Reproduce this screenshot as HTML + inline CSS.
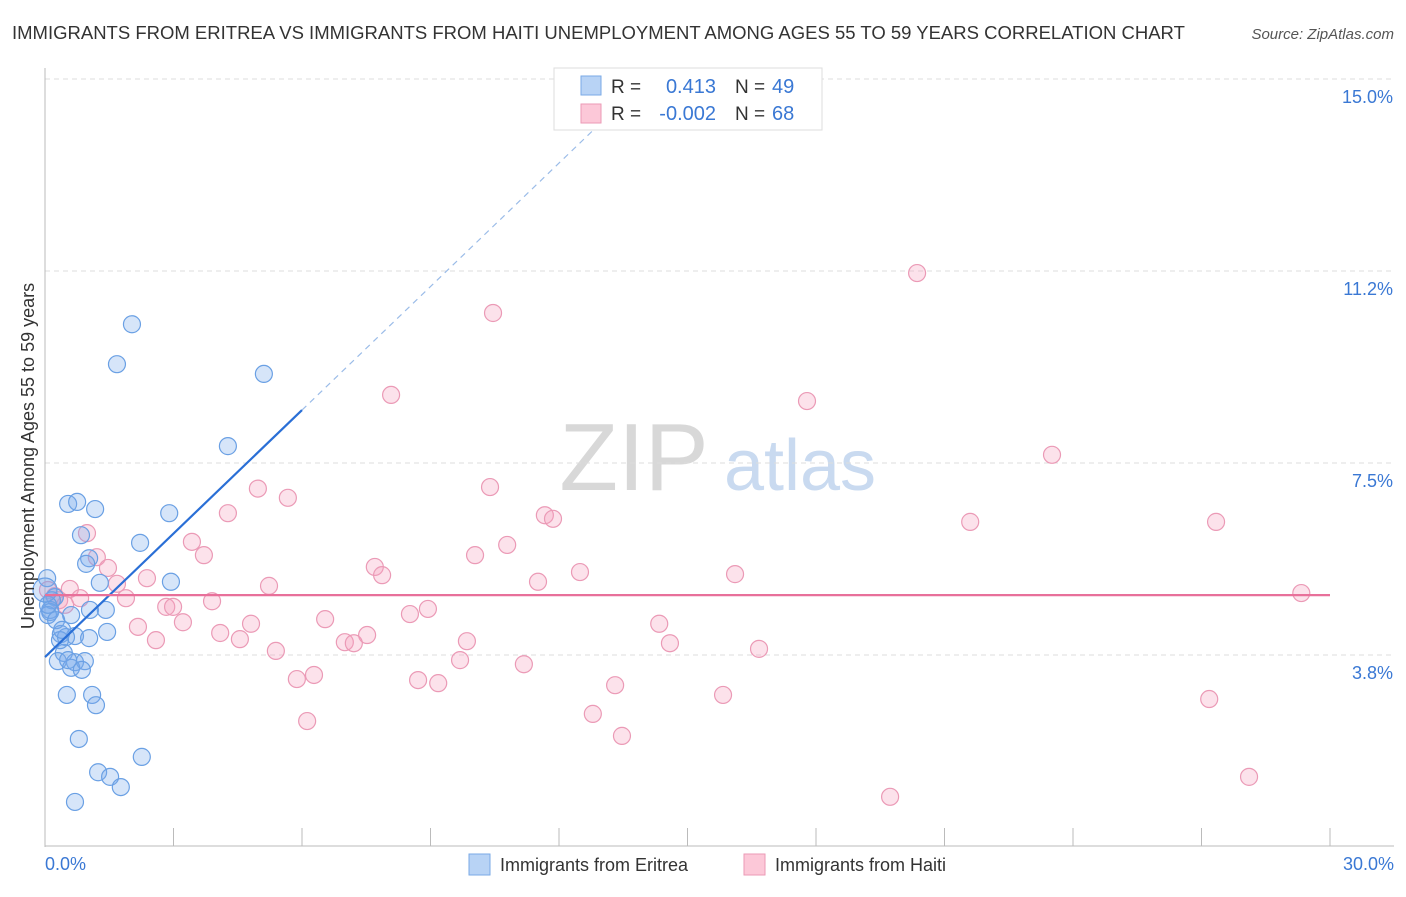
<!DOCTYPE html>
<html><head><meta charset="utf-8"><style>
body{margin:0;background:#fff;font-family:"Liberation Sans",sans-serif}
svg text{font-family:"Liberation Sans",sans-serif}
</style></head><body>
<svg id="chart" width="1406" height="892">
<text x="12" y="39" font-size="18.5" fill="#333">IMMIGRANTS FROM ERITREA VS IMMIGRANTS FROM HAITI UNEMPLOYMENT AMONG AGES 55 TO 59 YEARS CORRELATION CHART</text>
<text x="1394" y="39" font-size="15" fill="#555" text-anchor="end" font-style="italic">Source: ZipAtlas.com</text>
<g>
<text x="634" y="490" font-size="96" fill="#d8d8d8" text-anchor="middle" font-family="Liberation Serif,serif">ZIP</text>
<text x="800" y="490" font-size="72" fill="#c9daf0" text-anchor="middle">atlas</text>
</g>
<g id="grid"></g>
<g id="axes"></g>
<g id="pts"></g>
<g id="lines"></g>
<text transform="translate(34,456) rotate(-90)" font-size="18" fill="#333" text-anchor="middle">Unemployment Among Ages 55 to 59 years</text>
<g>
<rect x="554" y="68" width="268" height="62" fill="#fff" stroke="#ddd"/>
<rect x="581" y="76" width="20" height="19" fill="#b8d3f5" stroke="#7aaae6"/>
<rect x="581" y="104" width="20" height="19" fill="#fcc8d8" stroke="#eb9ab6"/>
<text x="611" y="93" font-size="19" fill="#333">R =</text>
<text x="716" y="93" font-size="20" fill="#3a78d4" text-anchor="end">0.413</text>
<text x="735" y="93" font-size="19" fill="#333">N =</text>
<text x="772" y="93" font-size="20" fill="#3a78d4">49</text>
<text x="611" y="120" font-size="19" fill="#333">R =</text>
<text x="716" y="120" font-size="20" fill="#3a78d4" text-anchor="end">-0.002</text>
<text x="735" y="120" font-size="19" fill="#333">N =</text>
<text x="772" y="120" font-size="20" fill="#3a78d4">68</text>
</g>
<g>
<rect x="469" y="854" width="21" height="21" fill="#b8d3f5" stroke="#7aaae6"/>
<text x="500" y="871" font-size="18" fill="#333">Immigrants from Eritrea</text>
<rect x="744" y="854" width="21" height="21" fill="#fcc8d8" stroke="#eb9ab6"/>
<text x="775" y="871" font-size="18" fill="#333">Immigrants from Haiti</text>
</g>
</svg>
<script>
const yTicks=[3.8,7.5,11.2,15.0];
const yTickVals=[3.75,7.5,11.25,15];
const xTickLabels=["0.0%","30.0%"];
const eritreaX=[2.03,1.68,5.11,4.27,0.54,0.75,1.17,2.90,0.84,2.22,1.03,0.96,1.28,2.94,0.05,0.23,0.16,0.12,1.05,1.42,0.61,0.12,0.70,0.37,0.49,1.03,1.45,0.07,0.44,0.30,0.70,0.93,0.61,0.86,0.51,1.10,1.19,0.79,2.26,1.24,1.52,1.77,0.70,0.35,0.26,0.07,0.40,0.54,0.0];
const eritreaY=[10.21,9.43,9.24,7.83,6.70,6.74,6.60,6.52,6.09,5.94,5.64,5.53,5.16,5.18,5.25,4.88,4.82,4.63,4.63,4.63,4.53,4.59,4.12,4.16,4.10,4.08,4.20,4.53,3.79,3.63,3.61,3.63,3.50,3.46,2.97,2.97,2.77,2.11,1.76,1.46,1.37,1.17,0.88,4.04,4.43,4.73,4.24,3.65,5.02];
const haitiX=[20.36,10.46,8.08,17.79,23.51,10.39,4.97,5.67,4.27,11.67,11.86,21.60,27.34,0.98,10.79,3.43,1.21,10.04,3.71,7.70,1.47,7.87,12.49,16.11,2.38,1.68,5.23,11.51,0.58,29.33,0.82,0.23,0.33,3.90,2.83,2.99,1.89,8.52,8.94,3.22,6.54,2.17,4.81,14.34,4.09,4.55,2.59,7.52,7.00,7.21,9.85,14.59,16.67,5.39,9.69,11.18,6.28,5.88,8.71,9.18,13.31,15.83,27.18,6.12,12.79,13.47,28.11,19.73,0.07,0.47];
const haitiY=[11.21,10.43,8.83,8.71,7.66,7.03,7.00,6.82,6.52,6.48,6.41,6.35,6.35,6.13,5.90,5.96,5.66,5.70,5.70,5.47,5.45,5.31,5.37,5.33,5.25,5.14,5.10,5.18,5.04,4.96,4.86,4.90,4.82,4.80,4.69,4.69,4.86,4.55,4.65,4.39,4.45,4.30,4.36,4.36,4.18,4.06,4.04,4.14,4.00,3.98,4.02,3.98,3.87,3.83,3.65,3.57,3.36,3.28,3.26,3.20,3.16,2.97,2.89,2.46,2.60,2.17,1.37,0.98,5.02,4.73];
const eritreaTrend=[3.71,0.804];
const haitiTrend=[4.92,0];
const NS="http://www.w3.org/2000/svg";
const X0=45,X1=1330,Y0=847,Y1=79;
const sx=v=>X0+(v/30)*(X1-X0);
const sy=v=>Y0-(v/15)*(Y0-Y1);
function mk(t,a,p){const e=document.createElementNS(NS,t);for(const k in a)e.setAttribute(k,a[k]);document.getElementById(p).appendChild(e);return e;}
yTickVals.forEach((v,i)=>{
 const g=mk('line',{x1:X0,x2:1394,y1:sy(v),y2:sy(v),stroke:'#ddd','stroke-dasharray':'5,4'},'grid');
 
 
 const t=mk('text',{x:1393,y:sy(v)+24,'font-size':18,fill:'#3a78d4','text-anchor':'end'},'grid');
 t.textContent=yTicks[i].toFixed(1)+'%';
 
 
});
const ax=mk('line',{x1:X0,x2:X0,y1:68,y2:847,stroke:'#bbb'},'axes');


const axx=mk('line',{x1:X0,x2:1394,y1:846,y2:846,stroke:'#bbb'},'axes');


for(let i=0;i<=10;i++){const l=mk('line',{x1:sx(i*3),x2:sx(i*3),y1:828,y2:846,stroke:'#bbb'},'axes');
 
 }
[[0,'start',45],[30,'end',1394]].forEach((d,i)=>{const t=mk('text',{x:d[2],y:870,'font-size':18,fill:'#3a78d4','text-anchor':d[1]},'axes');t.textContent=xTickLabels[i];
 
 });
haitiX.forEach((x,i)=>{const c=mk('circle',{cx:sx(x),cy:sy(haitiY[i]),r:8.5,fill:'rgba(246,160,190,0.3)',stroke:'#eb9ab6','stroke-width':1.2},'pts');
 
 });
eritreaX.forEach((x,i)=>{const c=mk('circle',{cx:sx(x),cy:sy(eritreaY[i]),r:i==eritreaX.length-1?12:8.5,fill:'rgba(120,170,235,0.3)',stroke:'#6aa0e4','stroke-width':1.2},'pts');
 
 });
const ty=x=>eritreaTrend[0]+eritreaTrend[1]*x;
const l1=mk('line',{x1:sx(0),y1:sy(ty(0)),x2:sx(6),y2:sy(ty(6)),stroke:'#2a6fd6','stroke-width':2.2},'lines');


const l2=mk('line',{x1:sx(6),y1:sy(ty(6)),x2:sx(13),y2:sy(ty(13)),stroke:'#9bbce8','stroke-width':1.2,'stroke-dasharray':'6,5'},'lines');


const l3=mk('line',{x1:sx(0),y1:sy(haitiTrend[0]),x2:sx(30),y2:sy(haitiTrend[0]+haitiTrend[1]*30),stroke:'#e8709a','stroke-width':2.2},'lines');


</script>
</body></html>
